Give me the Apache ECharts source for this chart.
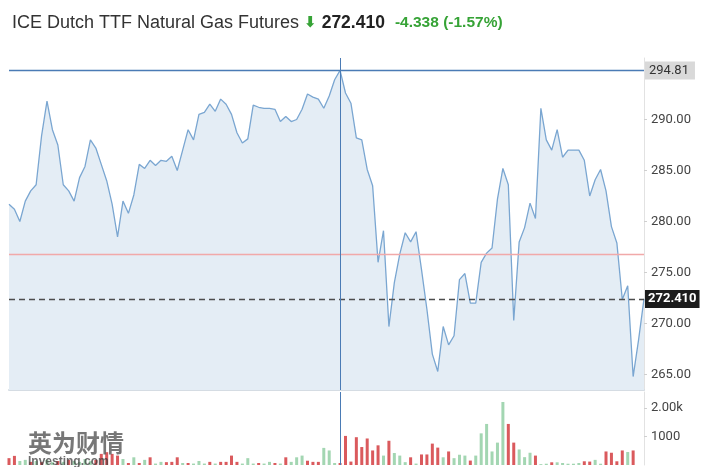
<!DOCTYPE html>
<html><head><meta charset="utf-8">
<script src="https://cdn.jsdelivr.net/npm/echarts@6/dist/echarts.min.js"></script>
<style>html,body{margin:0;padding:0;background:#fff}#c{width:720px;height:467px}</style>
</head><body><div id="c"></div>
<script>
const prices = [
  281.7, 281.2, 280.0, 282.0, 283.0, 283.6, 288.4, 291.8, 289.0, 287.5, 283.6, 283.0, 282.0, 284.3, 285.4, 288.0,
  287.2, 285.6, 284.0, 281.7, 278.5, 282.0, 280.8, 282.6, 285.6, 285.2, 286.0, 285.5, 286.0, 285.9, 286.4,
  285.0, 287.0, 289.0, 288.0, 290.5, 290.7, 291.5, 290.8, 292.0, 291.5, 290.5, 288.7, 287.7, 288.1, 291.4, 291.2,
  291.1, 291.1, 291.0, 289.8, 290.3, 289.8, 290.0, 291.0, 292.5, 292.2, 292.0, 291.1, 292.3, 293.9, 294.81,
  292.6, 291.6, 288.2, 288.0, 285.1, 283.5, 276.0, 279.1, 269.7, 274.0, 276.8, 278.9, 278.0, 279.0, 275.3, 271.4,
  267.0, 265.3, 269.7, 267.9,
  268.8, 274.3, 274.9, 272.0, 272.0, 276.0, 276.9, 277.4, 282.2, 285.2, 283.6, 270.3, 278.0, 279.4, 281.8, 280.3,
  291.1, 288.0, 287.0, 289.0, 286.3, 287.0, 287.0, 287.0, 286.0, 282.5, 284.1, 285.1, 283.0, 279.5, 277.9, 272.35,
  273.7, 264.8, 268.4, 272.41
];
const volumes = [
  240,320,140,180,110,140,100,180,100,140,
  110,180,140,110,210,140,180,390,450,390,
  330,210,70,270,70,180,270,50,110,100,
  110,270,70,70,50,140,50,110,50,110,
  110,330,110,50,240,50,70,50,110,70,
  50,270,110,270,330,150,110,110,600,510,
  70,70,1020,120,975,630,930,510,690,330,
  850,420,330,100,270,50,370,370,750,610,
  270,475,240,360,330,155,330,1110,1440,475,
  785,2210,1440,785,545,275,430,330,30,45,
  95,95,70,45,45,70,130,120,180,45,
  475,430,130,510,455,510,0,0
];
const volumeUp = [
  0,0,1,1,0,1,0,1,1,0,
  1,0,1,1,1,1,0,0,0,0,
  0,1,0,1,0,1,0,1,1,0,
  0,0,1,0,1,1,1,0,1,0,
  0,0,0,1,1,1,0,1,1,0,
  1,0,1,1,1,0,0,0,1,1,
  1,0,0,0,0,0,0,0,0,1,
  0,1,1,1,0,1,0,0,0,0,
  1,0,1,1,1,0,1,1,1,1,
  1,1,0,0,1,1,1,0,1,1,
  0,1,1,1,1,1,0,0,1,1,
  0,0,0,0,1,0,0,0
];
const categories = prices.map((_, i) => String(i + 1));
const priceTicks = [265, 270, 275, 280, 285, 290];
const volumeTicks = [1000, 2000];
const volumeTickLabels = ['1000', '2.00k'];
const instrumentName = 'ICE Dutch TTF Natural Gas Futures';
const lastPrice = 272.410;
const change = -4.338;
const changePct = -1.57;
const prevClose = lastPrice - change;

const highValue = Math.max(...prices);
const highIndex = prices.indexOf(highValue);

const GREEN = '#36a336';
const crossColor = '#4a7bb5';
const chart = echarts.init(document.getElementById('c'), null, {renderer: 'canvas'});

function refSeries(markData, lineStyle, label, xi, yi) {
  return {
    type: 'line', xAxisIndex: xi, yAxisIndex: yi, data: [], symbol: 'none', silent: true,
    markLine: {silent: true, symbol: 'none', animation: false, lineStyle: lineStyle,
               label: label || {show: false}, data: [markData]}
  };
}

chart.setOption({
  animation: false,
  backgroundColor: '#fff',
  title: {
    left: 7, top: 9,
    text: '{name|' + instrumentName + '} {arrow|⬇} {price|' + lastPrice.toFixed(3) + '}  {chg|' +
      change.toFixed(3) + ' (' + changePct.toFixed(2) + '%)}',
    textStyle: {
      fontWeight: 'normal',
      rich: {
        name: {fontSize: 18, color: '#333', fontWeight: 'normal', fontFamily: 'Liberation Sans, Arial'},
        arrow: {fontSize: 15, color: GREEN, fontWeight: 'bold', fontFamily: 'DejaVu Sans'},
        price: {fontSize: 17.5, color: '#222', fontWeight: 'bold', fontFamily: 'Liberation Sans, Arial'},
        chg: {fontSize: 15.5, color: GREEN, fontWeight: 'bold', fontFamily: 'Liberation Sans, Arial'}
      }
    }
  },
  grid: [
    {left: 9, right: 76, top: 58, bottom: 77},
    {left: 9, right: 76, top: 392, bottom: 2}
  ],
  xAxis: [
    {type: 'category', gridIndex: 0, data: categories, boundaryGap: false,
     axisLine: {show: true, lineStyle: {color: '#d5dce3', width: 2}},
     axisTick: {show: false}, axisLabel: {show: false}, splitLine: {show: false}},
    {type: 'category', gridIndex: 1, data: categories, boundaryGap: false,
     axisLine: {show: false}, axisTick: {show: false}, axisLabel: {show: false}, splitLine: {show: false}}
  ],
  yAxis: [
    {type: 'value', gridIndex: 0, position: 'right', min: 263.48, max: 296.03,
     axisLine: {show: true, lineStyle: {color: '#e2e2e2'}},
     axisTick: {show: true, length: 3, customValues: priceTicks, lineStyle: {color: '#cfcfcf'}},
     axisLabel: {customValues: priceTicks, formatter: v => v.toFixed(2), color: '#444',
                 fontSize: 13, fontFamily: 'Roboto', margin: 7},
     splitLine: {show: false}},
    {type: 'value', gridIndex: 1, position: 'right', min: 0, max: 2560,
     axisLine: {show: true, lineStyle: {color: '#e2e2e2'}},
     axisTick: {show: true, length: 3, customValues: volumeTicks, lineStyle: {color: '#cfcfcf'}},
     axisLabel: {customValues: volumeTicks, formatter: v => volumeTickLabels[volumeTicks.indexOf(v)],
                 color: '#444', fontSize: 13, fontFamily: 'Roboto', margin: 7},
     splitLine: {show: false}}
  ],
  series: [
    {
      type: 'line', xAxisIndex: 0, yAxisIndex: 0, data: prices, symbol: 'none', z: 2,
      lineStyle: {color: '#7aa6d1', width: 1.3},
      areaStyle: {color: '#e4edf5', origin: 'start', opacity: 1}
    },
    refSeries({yAxis: prevClose}, {color: '#f1a9a9', width: 1.3, type: 'solid', opacity: 1}, null, 0, 0),
    refSeries({yAxis: lastPrice}, {color: '#4d4d4d', width: 1.4, type: [6, 4], opacity: 1},
      {show: true, position: 'end', distance: 1, formatter: lastPrice.toFixed(3),
       backgroundColor: '#1c1c1c', color: '#fff', fontWeight: 'bold', fontSize: 13,
       fontFamily: 'Roboto', padding: [3, 3, 2, 3]}, 0, 0),
    refSeries({yAxis: highValue}, {color: crossColor, width: 1.3, type: 'solid', opacity: 1},
      {show: true, position: 'end', distance: 1, formatter: highValue.toFixed(2),
       backgroundColor: '#d9d9d9', color: '#333', fontSize: 13,
       fontFamily: 'Roboto', padding: [3, 6, 2, 4]}, 0, 0),
    refSeries({xAxis: categories[highIndex]}, {color: crossColor, width: 1, type: 'solid', opacity: 1}, null, 0, 0),
    {
      type: 'bar', xAxisIndex: 1, yAxisIndex: 1, barWidth: 3,
      data: volumes.map((v, i) => ({value: v, itemStyle: {color: volumeUp[i] ? '#a3d6b2' : '#da5a5d'}}))
    },
    refSeries({xAxis: categories[highIndex]}, {color: crossColor, width: 1, type: 'solid', opacity: 1}, null, 1, 1)
  ],
  graphic: [
    {type: 'text', left: 28, top: 431, z: 100,
     style: {text: '英为财情', font: 'bold 24px "Noto Sans CJK SC"', fill: 'rgba(95,95,95,0.85)'}},
    {type: 'text', left: 28, top: 456, z: 100,
     style: {text: 'Investing.com', font: 'bold 12px "Liberation Sans"', fill: 'rgba(60,60,60,0.75)'}}
  ]
});
</script></body></html>
